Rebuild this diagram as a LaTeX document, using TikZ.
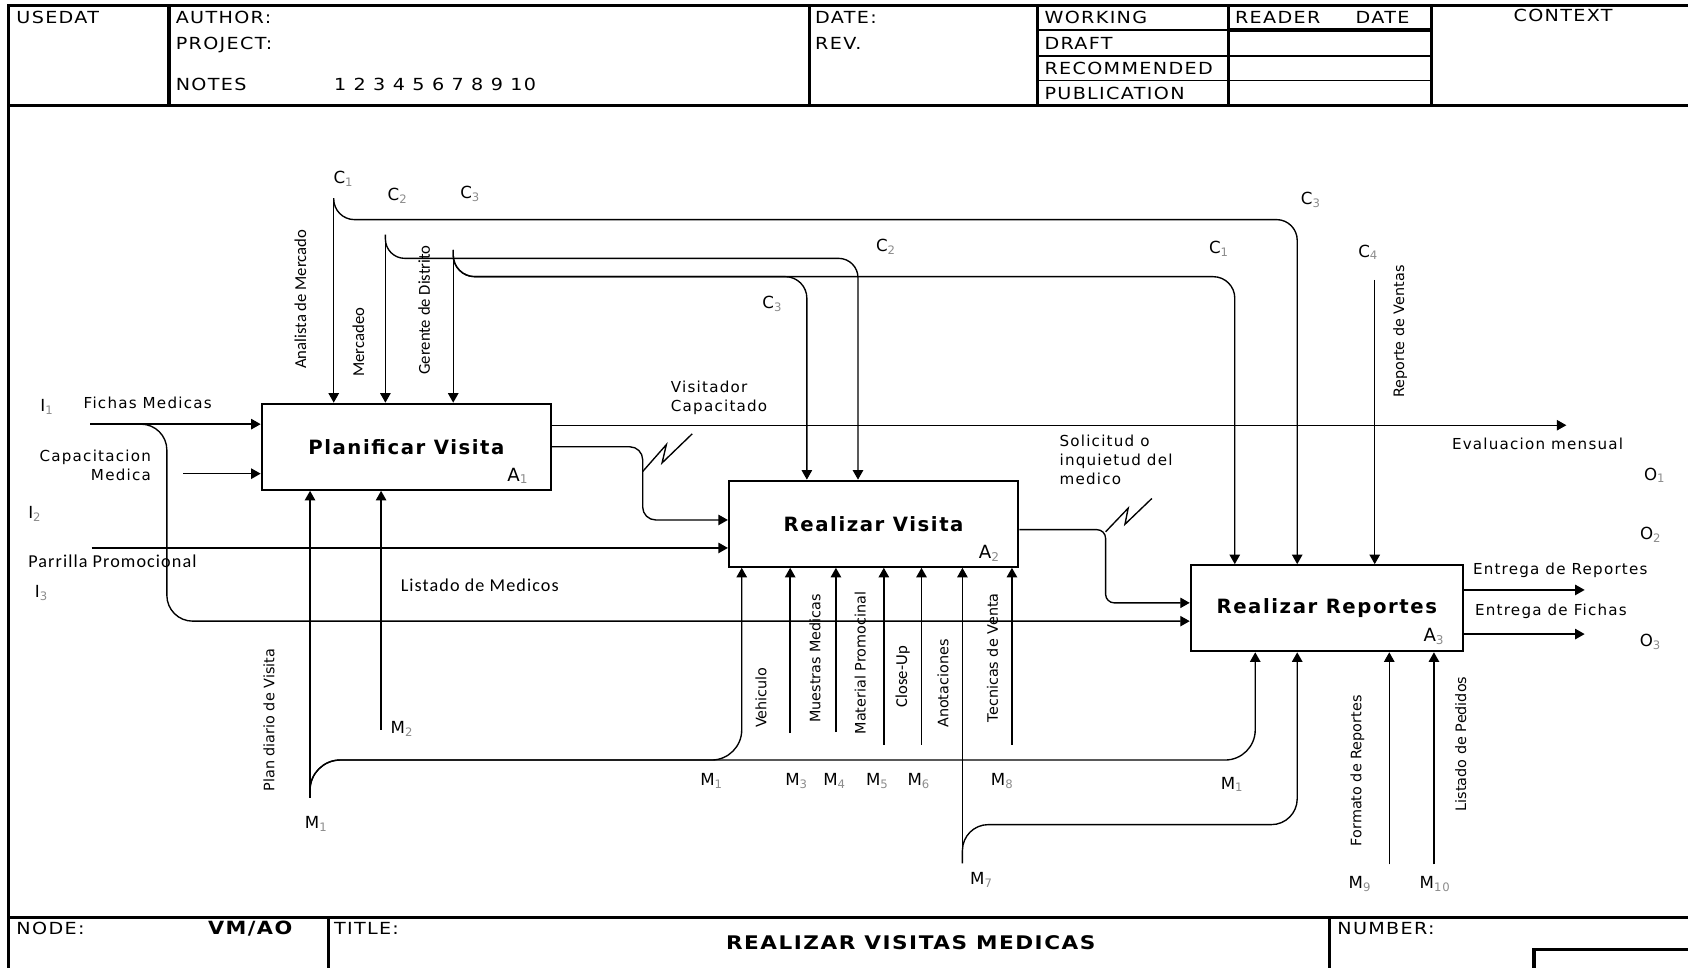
\documentclass[tikz,border=0pt]{standalone}
\usepackage{fontspec}
\setmainfont{DejaVu Sans}
\newfontfamily\hdrfont[LetterSpace=8,FakeStretch=1.15]{DejaVu Sans}
\newfontfamily\lblfont[LetterSpace=8]{DejaVu Sans}
\newfontfamily\narfont{Carlito}
\newfontfamily\narhfont[LetterSpace=6]{Carlito}
\usetikzlibrary{arrows.meta}
\newcommand{\icom}[2]{#1\textsubscript{\textcolor{black!45}{#2}}}
\tikzset{
  >={Triangle[length=2.2mm,width=2.4mm]},
  formline/.style={line width=2.2pt},
  thinline/.style={line width=1pt},
  act/.style={draw,line width=1.3pt,minimum width=#1,minimum height=2cm,inner sep=0pt,
    font=\lblfont\bfseries\fontsize{13}{15}\selectfont},
  act/.default=6.72cm,
  link/.style={->,line width=0.9pt},
  squig/.style={line width=0.9pt},
  hdr/.style={font=\hdrfont\fontsize{11}{13}\selectfont,anchor=base west,inner sep=0pt},
  lbl/.style={font=\lblfont\fontsize{10}{12.4}\selectfont,anchor=base west,inner sep=0pt},
  nlblh/.style={font=\narhfont\fontsize{12}{14}\selectfont,anchor=base west,inner sep=0pt},
  icode/.style={font=\lblfont\fontsize{11}{13}\selectfont,anchor=base west,inner sep=0pt},
  vlbl/.style={rotate=90,font=\fontsize{9.5}{11}\selectfont,inner sep=0pt},
  nlbl/.style={rotate=90,font=\narfont\fontsize{11}{13}\selectfont,inner sep=0pt},
}
\begin{document}
\begin{tikzpicture}[x=0.025cm,y=-0.025cm]
\useasboundingbox (0,0) rectangle (1568,899);
% form
\draw[formline] (1568,5) -- (8,5) -- (8,899);
\draw[formline] (8,98) -- (1568,98) (8,852) -- (1568,852);
\foreach \x in {157,752,964,1141,1330} \draw[formline] (\x,5) -- (\x,98);
\foreach \y in {28,52,75} \draw[thinline] (964,\y) -- (1330,\y);
\draw[formline] (1141,28) -- (1330,28);
\draw[formline] (305,852) -- (305,899) (1235,852) -- (1235,899) (1425,899) -- (1425,882) -- (1568,882);
\foreach \t/\x/\y [count=\i] in {USEDAT/15/22,AUTHOR:/163/22,PROJECT:/163/46,NOTES/163/84,
    1 2 3 4 5 6 7 8 9 10/310/84,DATE:/757/22,REV./757/46,WORKING/970/22,DRAFT/970/46,
    RECOMMENDED/970/69,PUBLICATION/970/92,READER/1147/22,DATE/1259/22,
    NODE:/15/868,TITLE:/310/868,NUMBER:/1242/868}
  \node[hdr] (h\i) at (\x,\y) {\t};
\node[hdr,anchor=base] (ctx) at (1452,20) {CONTEXT};
\node[hdr,font=\hdrfont\bfseries\fontsize{12}{14}\selectfont] (nd) at (193,868) {VM/AO};
\node[hdr,anchor=base,font=\hdrfont\bfseries\fontsize{12.4}{14}\selectfont] (ttl) at (846,882) {REALIZAR VISITAS MEDICAS};
% activities
\node[act] (A1) at (377.5,415) {Planificar Visita};
\node[act] (A2) at (811.5,486.5) {Realizar Visita};
\node[act=6.32cm] (A3) at (1232.5,565) {Realizar Reportes};
\node[icode,anchor=base east,font=\lblfont\fontsize{12}{14}\selectfont] (a1) at (491,447) {\icom{A}{1}};
\node[icode,anchor=base east,font=\lblfont\fontsize{12}{14}\selectfont] (a2) at (929,519) {\icom{A}{2}};
\node[icode,anchor=base east,font=\lblfont\fontsize{12}{14}\selectfont] (a3) at (1342,596) {\icom{A}{3}};
% end points and bends
\coordinate (c1) at (310,184); \coordinate (c2) at (358,218);
\coordinate (c3) at (421,232); \coordinate (c4) at (1277,260);
\coordinate (k1) at (1205,204); \coordinate (k2) at (797,240);
\coordinate (k3) at (749.5,257); \coordinate (k4) at (1147,257);
\coordinate (i1) at (84,394); \coordinate (i1b) at (155,577);
\coordinate (cm) at (170,440); \coordinate (i2) at (85,509);
\coordinate (o1) at (1455,395); \coordinate (o2) at (1472,548); \coordinate (o3) at (1472,589);
\coordinate (d1) at (597,483); \coordinate (d2) at (1027,492); \coordinate (d3) at (1027,560);
\coordinate (m1) at (288,741); \coordinate (m2) at (354,678);
\coordinate (m3) at (734,681); \coordinate (m4) at (776.5,680);
\coordinate (m5) at (821,692); \coordinate (m6) at (856,692);
\coordinate (m7) at (894,802); \coordinate (m8) at (940,692);
\coordinate (m9) at (1290.5,803); \coordinate (m10) at (1332,803);
\coordinate (k5) at (689,706); \coordinate (k6) at (1166,706); \coordinate (k7) at (1205,766);
\coordinate (z1) at (597,438); \coordinate (z2) at (1027,494);
% controls
\foreach \c/\b in {c1/A1,c2/A1,c3/A1,c4/A3} \draw[link] (\c) -- (\c |- \b.north);
\draw[link,rounded corners=0.48cm] (c1) |- (k1) -- (k1 |- A3.north);
\draw[link,rounded corners=0.45cm] (c2) |- (k2) -- (k2 |- A2.north);
\draw[link,rounded corners=0.5cm] (c3) |- (k3) -- (k3 |- A2.north);
\draw[link,rounded corners=0.5cm] (c3) |- (k4) -- (k4 |- A3.north);
% inputs and outputs
\draw[link] (i1) -- (i1 -| A1.west);
\draw[link,rounded corners=0.6cm] (i1) -| (i1b) -- (i1b -| A3.west);
\draw[link] (cm) -- (cm -| A1.west);
\draw[link] (i2) -- (i2 -| A2.west);
\draw[link] (o1 -| A1.east) -- (o1);
\draw[link,rounded corners=0.3cm] (A1.east) -| (d1) -- (d1 -| A2.west);
\draw[link,rounded corners=0.2cm] (d2 -| A2.east) -- (d2) -- (d3) -- (d3 -| A3.west);
\draw[link] (o2 -| A3.east) -- (o2);
\draw[link] (o3 -| A3.east) -- (o3);
% mechanisms
\foreach \m/\b in {m1/A1,m2/A1,m3/A2,m4/A2,m5/A2,m6/A2,m7/A2,m8/A2,m9/A3,m10/A3}
  \draw[link] (\m) -- (\m |- \b.south);
\draw[link,rounded corners=0.7cm] (m1) |- (k5) -- (k5 |- A2.south);
\draw[link,rounded corners=0.7cm] (m1) |- (k6) -- (k6 |- A3.south);
\draw[link,rounded corners=0.6cm] (m7) |- (k7) -- (k7 |- A3.south);
\draw[squig] (z1) -- ++(22,-25) -- ++(-4,17) -- ++(28,-27);
\draw[squig] (z2) -- ++(21,-22) -- ++(-3,15) -- ++(25,-24);
% labels
\foreach \t/\n/\x/\y [count=\i] in {C/1/309.6/170.3,C/2/359.8/186,C/3/427.3/184.2,C/2/813.5/234,
    C/3/707.9/286.4,C/3/1208.2/190.4,C/1/1122.8/235.3,C/4/1261.5/238.8,
    I/1/37.3/382.4,I/2/26/481.5,I/3/32.2/555,O/1/1526.9/446,O/2/1523.2/501.6,O/3/1523/600.7,
    M/1/283/769.5,M/2/362.6/681,M/1/650.3/730,M/3/729.2/730,M/4/764.5/730,M/5/804.2/730,
    M/6/842.8/730,M/8/920.2/730,M/1/1133.7/733,M/7/900.9/822,M/9/1252.5/825,M/10/1318.5/825}
  \node[icode] (l\i) at (\x,\y) {\icom{\t}{\n}};
\node[lbl] (fm) at (77.5,379.3) {Fichas Medicas};
\node[lbl,anchor=north east,align=right] (cap) at (140.4,418) {Capacitacion\\Medica};
\node[nlblh] (pp) at (26,527) {Parrilla Promocional};
\node[nlblh] (lm) at (372,549.6) {Listado de Medicos};
\node[lbl,anchor=north west,align=left] (vc) at (623,354) {Visitador\\Capacitado};
\node[lbl,anchor=north west,align=left] (sq) at (984,404) {Solicitud o\\inquietud del\\medico};
\node[lbl] (ev) at (1348.5,418) {Evaluacion mensual};
\node[lbl] (er) at (1368,533.2) {Entrega de Reportes};
\node[lbl] (ef) at (1370,572.2) {Entrega de Fichas};
\node[nlbl] (r1) at (279,278) {Analista de Mercado};
\node[nlbl] (r2) at (333,318) {Mercadeo};
\node[nlbl] (r3) at (394,288) {Gerente de Distrito};
\node[vlbl] (r4) at (1300.5,308) {Reporte de Ventas};
\node[vlbl] (r5) at (250,669) {Plan diario de Visita};
\node[vlbl] (r6) at (707,648) {Vehiculo};
\node[vlbl] (r7) at (757,611.5) {Muestras Medicas};
\node[vlbl] (r8) at (799,616) {Material Promocinal};
\node[nlbl] (r9) at (838.6,628.5) {Close-Up};
\node[vlbl] (r10) at (876,635) {Anotaciones};
\node[vlbl] (r11) at (922,611) {Tecnicas de Venta};
\node[vlbl] (r12) at (1261,716) {Formato de Reportes};
\node[vlbl] (r13) at (1357,691) {Listado de Pedidos};
\end{tikzpicture}
\end{document}
